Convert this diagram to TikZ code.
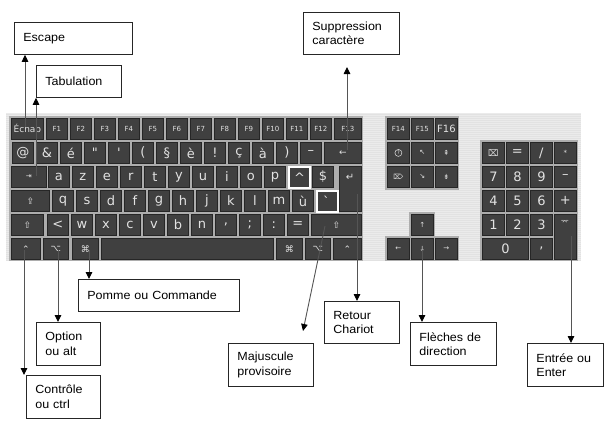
\documentclass[tikz,border=0pt]{standalone}
\usepackage{fontspec}
\setmainfont{Liberation Sans}[FakeStretch=1.06]
\newfontfamily\keyfont{DejaVu Sans}
\usetikzlibrary{arrows.meta}
\definecolor{kbbg}{HTML}{EBEBEB}
\definecolor{kbstripe}{HTML}{E2E2E2}
\definecolor{frame}{HTML}{ADADAD}
\definecolor{keyface}{HTML}{404040}
\definecolor{keyedge}{HTML}{262626}
\definecolor{keylight}{HTML}{6A6A6A}
\definecolor{keytext}{HTML}{E2E2E2}
\definecolor{linegray}{HTML}{555555}
\tikzset{
  kkey/.style={draw=keyedge, fill=keyface, line width=0.8pt, minimum height=21pt,
    inner sep=0pt, anchor=north west, text=keytext, font=\keyfont\fontsize{13}{13}\selectfont,
    path picture={\draw[keylight,line width=2pt]
      (path picture bounding box.south west) -- (path picture bounding box.north west)
      -- (path picture bounding box.north east);}},
  fkey/.style={font=\keyfont\fontsize{7}{7}\selectfont},
  skey/.style={font=\keyfont\fontsize{9}{9}\selectfont},
  tkey/.style={font=\keyfont\fontsize{7}{7}\selectfont},
  hikey/.style={draw=white, line width=2.2pt},
  cbox/.style={draw=black!85, line width=0.8pt, anchor=north west, inner xsep=9pt,
    inner ysep=0pt, align=left, font=\fontsize{11.8}{14.3}\selectfont, text=black},
  arr/.style={draw=linegray, line width=0.9pt, -{Triangle[width=6.5pt,length=7pt,color=black]}},
}
\newcommand\kk[5][]{\node[kkey,minimum width=#4pt,#1] (#2) at (#3) {#5};}
\newcommand\cb[5]{\node[cbox,text width=#3pt,minimum height=#4pt] (#1) at (#2) {#5};}
\begin{document}
\begin{tikzpicture}[x=1pt,y=-1pt]
\useasboundingbox (0,0) rectangle (615,426);
\fill[white] (0,0) rectangle (615,426);
% keyboard background
\fill[kbbg] (6,113) rectangle (581,261);
\foreach \yy in {114,116,...,260} \draw[kbstripe,line width=0.5pt] (6,\yy) -- (581,\yy);
% group frames
\fill[frame] (9,116) rectangle (363,261);
\fill[frame] (385,116) rectangle (459,190);
\fill[frame] (409,212) rectangle (435,237);
\fill[frame] (385,236) rectangle (459,261);
\fill[frame] (480,140) rectangle (578,261);
% row 1
\kk[font=\keyfont\fontsize{9}{9}\selectfont]{kesc}{11,118}{32}{Échap}
\foreach \i in {1,...,12}{
  \pgfmathsetmacro\xx{46+24*(\i-1)}
  \node[kkey,fkey,minimum width=21pt] (f\i) at (\xx,118) {F\i};
}
\kk[fkey]{f13}{334,118}{27}{F13}
% row 2
\foreach \lab [count=\k from 0] in {{@},{\&},{é},{"},{'},{(},{§},{è},{!},{ç},{à},{)},{–}}{
  \pgfmathsetmacro\xx{12+24*\k}
  \node[kkey,minimum width=21pt] (rb\k) at (\xx,142) {\lab};
}
\kk[skey]{kback}{324,142}{37}{←}
% row 3
\kk[tkey]{ktab}{11,166}{35}{⇥}
\foreach \lab [count=\k from 0] in {a,z,e,r,t,y,u,i,o,p}{
  \pgfmathsetmacro\xx{48+24*\k}
  \node[kkey,minimum width=21pt] (rc\k) at (\xx,166) {\lab};
}
\kk[hikey]{kcirc}{288,166}{21}{\textasciicircum}
\kk{kdollar}{312,166}{21}{\$}
\kk[minimum height=45pt]{kret}{339,166}{22}{}
\node[text=keytext,font=\keyfont\fontsize{10}{10}\selectfont] (kretlab) at (350,177) {↵};
% row 4
\kk[skey]{kcaps}{11,190}{38}{⇪}
\foreach \lab [count=\k from 0] in {q,s,d,f,g,h,j,k,l,m,ù}{
  \pgfmathsetmacro\xx{52+24*\k}
  \node[kkey,minimum width=21pt] (rd\k) at (\xx,190) {\lab};
}
\kk[hikey]{kgrave}{316,190}{21}{\`{}}
% row 5
\kk[skey]{klshift}{11,214}{32}{⇧}
\foreach \lab [count=\k from 0] in {{<},{w},{x},{c},{v},{b},{n},{,},{;},{:},{=}}{
  \pgfmathsetmacro\xx{47+24*\k}
  \node[kkey,minimum width=21pt] (re\k) at (\xx,214) {\lab};
}
\kk[skey]{krshift}{311,214}{50}{⇧}
% row 6
\kk[skey]{kctrl}{11,238}{29}{⌃}
\kk[skey]{kopt}{43,238}{25}{⌥}
\kk[skey]{kcmd}{72,238}{26}{⌘}
\kk{kspace}{101,238}{172}{}
\kk[skey]{krcmd}{276,238}{26}{⌘}
\kk[skey]{kropt}{305,238}{25}{⌥}
\kk[skey]{krctrl}{333,238}{28}{⌃}
% middle block
\kk[fkey]{f14}{387,118}{22}{F14}
\kk[fkey]{f15}{411,118}{22}{F15}
\kk[font=\keyfont\fontsize{10}{10}\selectfont]{f16}{435,118}{22}{F16}
\kk{khelp}{387,142}{22}{}
\draw[keytext,line width=0.5pt] (khelp.center) circle (3.5pt);
\node[text=keytext,font=\keyfont\fontsize{5}{5}\selectfont] (khelpq) at (khelp.center) {?};
\kk[tkey]{khome}{411,142}{22}{↖}
\kk[tkey]{kpgup}{435,142}{22}{⇞}
\kk[tkey]{kdel}{387,166}{22}{⌦}
\kk[tkey]{kend}{411,166}{22}{↘}
\kk[tkey]{kpgdn}{435,166}{22}{⇟}
\kk[tkey]{kup}{411,214}{22}{↑}
\kk[tkey]{kleft}{387,238}{22}{←}
\kk[tkey]{kdown}{411,238}{22}{↓}
\kk[tkey]{kright}{435,238}{22}{→}
% numpad
\kk[skey]{nclr}{482,142}{22}{⌧}
\kk{neq}{506,142}{22}{=}
\kk{nslash}{530,142}{22}{/}
\kk[tkey]{nstar}{554,142}{22}{*}
\kk{n7}{482,166}{22}{7}
\kk{n8}{506,166}{22}{8}
\kk{n9}{530,166}{22}{9}
\kk{nminus}{554,166}{22}{–}
\kk{n4}{482,190}{22}{4}
\kk{n5}{506,190}{22}{5}
\kk{n6}{530,190}{22}{6}
\kk{nplus}{554,190}{22}{+}
\kk{n1}{482,214}{22}{1}
\kk{n2}{506,214}{22}{2}
\kk{n3}{530,214}{22}{3}
\kk[minimum height=45pt]{nent}{554,214}{22}{}
\node[text=keytext,font=\keyfont\fontsize{7}{7}\selectfont] (nentlab) at (565,222) {⌤};
\kk{n0}{482,238}{46}{0}
\kk{ncomma}{530,238}{22}{,}
% callout boxes
\cb{escbox}{14,22}{100}{32}{Escape}
\cb{tabbox}{36,65}{67}{32}{Tabulation}
\cb{supbox}{303,12}{78}{42}{Suppression\\caractère}
\cb{pombox}{78,279}{143}{32}{Pomme ou Commande}
\cb{optbox}{36,322}{46}{43}{Option\\ou alt}
\cb{ctlbox}{26,375}{56}{43}{Contrôle\\ou ctrl}
\cb{majbox}{228,343}{67}{43}{Majuscule\\provisoire}
\cb{retbox}{324,301}{57}{42}{Retour\\Chariot}
\cb{flebox}{410,322}{68}{43}{Flèches de\\direction}
\cb{entbox}{527,343}{58}{43}{Entrée ou\\Enter}
% connectors
\coordinate (cEsc) at (25,127);
\draw[arr] (cEsc) -- (cEsc |- escbox.south);
\coordinate (cTab) at (36,176);
\draw[arr] (cTab) -- (cTab |- tabbox.south);
\coordinate (cBack) at (347,150);
\coordinate (cSup) at (347,67);
\draw[arr] (cBack) -- (cSup);
\coordinate (cCmd) at (89,250);
\draw[arr] (cCmd) -- (cCmd |- pombox.north);
\coordinate (cOpt) at (58,250);
\draw[arr] (cOpt) -- (cOpt |- optbox.north);
\coordinate (cCtl) at (24,250);
\draw[arr] (cCtl) -- (cCtl |- ctlbox.north);
\coordinate (cShift) at (325,226);
\coordinate (cMaj) at (303,331);
\draw[arr] (cShift) -- (cMaj);
\coordinate (cRet) at (357,194);
\draw[arr] (cRet) -- (cRet |- retbox.north);
\coordinate (cDown) at (422,250);
\draw[arr] (cDown) -- (cDown |- flebox.north);
\coordinate (cEnt) at (571,236);
\draw[arr] (cEnt) -- (cEnt |- entbox.north);
\end{tikzpicture}
\end{document}
